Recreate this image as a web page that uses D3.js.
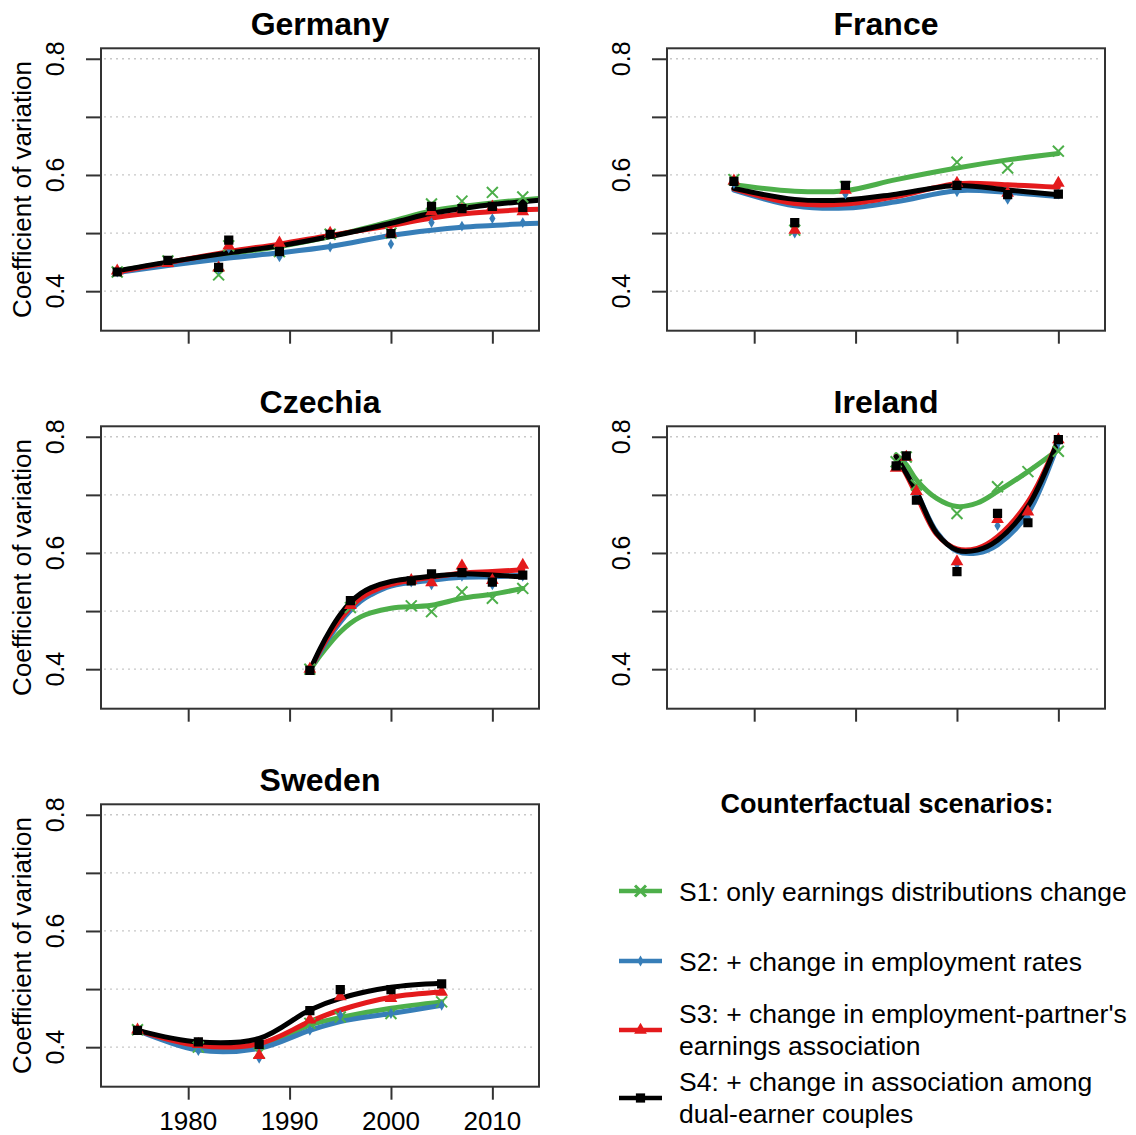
<!DOCTYPE html>
<html>
<head>
<meta charset="utf-8">
<script src="https://cdn.jsdelivr.net/npm/d3@7"></script>
<style>
  html, body { margin: 0; padding: 0; background: #fff; }
  svg { display: block; }
  text { font-family: "Liberation Sans", Arial, Helvetica, sans-serif; fill: #000; }
</style>
</head>
<body>
<svg id="chart" width="1136" height="1135"></svg>
<script>
// ---------------- DATA ----------------
const scenarioLabels = [
  ["S1: only earnings distributions change"],
  ["S2: + change in employment rates"],
  ["S3: + change in employment-partner's", "earnings association"],
  ["S4: + change in association among", "dual-earner couples"]
];
const scenarioColors = ["#4DAF4A", "#377EB8", "#E41A1C", "#000000"];
const yTicks = [0.4, 0.5, 0.6, 0.7, 0.8];
const yTickLabels = ["0.4", "", "0.6", "", "0.8"];
const xTicks = [1980, 1990, 2000, 2010];
const xTickLabels = ["1980", "1990", "2000", "2010"];
const xLimits = [1973, 2013];
const yLimits = [0.35, 0.8];

// Germany
const germanyYears = [1973, 1978, 1983, 1984, 1989, 1994, 2000, 2004, 2007, 2010, 2013];
const germanyS1 = [0.433, 0.452, 0.428, 0.478, 0.468, 0.498, 0.500, 0.550, 0.555, 0.570, 0.562];
const germanyS2 = [0.433, 0.450, 0.438, 0.474, 0.459, 0.476, 0.481, 0.518, 0.512, 0.525, 0.518];
const germanyS3 = [0.435, 0.448, 0.440, 0.478, 0.483, 0.500, 0.500, 0.537, 0.540, 0.545, 0.537];
const germanyS4 = [0.433, 0.453, 0.441, 0.488, 0.468, 0.498, 0.499, 0.546, 0.542, 0.546, 0.544];
const germanyFitYears = [1973, 1978, 1984, 1989, 1994, 2000, 2004, 2007, 2010, 2013, 2015];
const germanyFitS1 = [0.435, 0.449, 0.464, 0.477, 0.494, 0.520, 0.538, 0.546, 0.552, 0.557, 0.560];
const germanyFitS2 = [0.432, 0.444, 0.457, 0.466, 0.477, 0.496, 0.505, 0.510, 0.513, 0.516, 0.517];
const germanyFitS3 = [0.433, 0.449, 0.468, 0.481, 0.496, 0.513, 0.526, 0.533, 0.537, 0.540, 0.541];
const germanyFitS4 = [0.435, 0.450, 0.466, 0.478, 0.494, 0.517, 0.534, 0.542, 0.549, 0.554, 0.557];

// France
const franceYears = [1978, 1984, 1989, 2000, 2005, 2010];
const franceS1 = [0.592, 0.505, 0.580, 0.622, 0.612, 0.641];
const franceS2 = [0.585, 0.500, 0.567, 0.571, 0.558, 0.567];
const franceS3 = [0.590, 0.505, 0.574, 0.586, 0.569, 0.586];
const franceS4 = [0.589, 0.518, 0.582, 0.582, 0.566, 0.567];
const franceFitYears = [1978, 1984, 1989, 1994, 2000, 2005, 2010];
const franceFitS1 = [0.583, 0.572, 0.573, 0.592, 0.612, 0.626, 0.637];
const franceFitS2 = [0.574, 0.547, 0.543, 0.554, 0.573, 0.570, 0.563];
const franceFitS3 = [0.576, 0.551, 0.550, 0.563, 0.585, 0.583, 0.579];
const franceFitS4 = [0.577, 0.558, 0.557, 0.567, 0.582, 0.574, 0.566];

// Czechia
const czechiaYears = [1992, 1996, 2002, 2004, 2007, 2010, 2013];
const czechiaS1 = [0.400, 0.506, 0.509, 0.499, 0.533, 0.522, 0.539];
const czechiaS2 = [0.400, 0.510, 0.550, 0.545, 0.560, 0.545, 0.560];
const czechiaS3 = [0.400, 0.510, 0.553, 0.549, 0.578, 0.553, 0.579];
const czechiaS4 = [0.398, 0.518, 0.552, 0.564, 0.566, 0.550, 0.562];
const czechiaFitYears = [1992, 1993, 1994, 1995, 1996, 1997, 1998, 2000, 2004, 2007, 2010, 2013];
const czechiaFitS1 = [0.398, 0.423, 0.445, 0.464, 0.479, 0.490, 0.497, 0.505, 0.510, 0.522, 0.529, 0.539];
const czechiaFitS2 = [0.398, 0.429, 0.457, 0.481, 0.501, 0.517, 0.528, 0.543, 0.553, 0.558, 0.559, 0.562];
const czechiaFitS3 = [0.398, 0.432, 0.461, 0.486, 0.506, 0.522, 0.533, 0.546, 0.558, 0.565, 0.568, 0.571];
const czechiaFitS4 = [0.398, 0.435, 0.467, 0.494, 0.515, 0.530, 0.540, 0.551, 0.560, 0.564, 0.562, 0.559];

// Ireland
const irelandYears = [1994, 1995, 1996, 2000, 2004, 2007, 2010];
const irelandS1 = [0.757, 0.765, 0.717, 0.668, 0.714, 0.740, 0.775];
const irelandS2 = [0.750, 0.765, 0.700, 0.580, 0.647, 0.660, 0.790];
const irelandS3 = [0.746, 0.765, 0.706, 0.585, 0.658, 0.671, 0.795];
const irelandS4 = [0.750, 0.767, 0.691, 0.568, 0.668, 0.652, 0.795];
const irelandFitYears = [1994, 1995, 1996, 1998, 2000, 2002, 2004, 2007, 2010];
const irelandFitS1 = [0.769, 0.752, 0.726, 0.694, 0.680, 0.686, 0.706, 0.740, 0.778];
const irelandFitS2 = [0.766, 0.737, 0.706, 0.636, 0.603, 0.600, 0.614, 0.668, 0.790];
const irelandFitS3 = [0.766, 0.735, 0.700, 0.632, 0.607, 0.608, 0.628, 0.688, 0.795];
const irelandFitS4 = [0.766, 0.737, 0.706, 0.634, 0.605, 0.605, 0.622, 0.680, 0.795];

// Sweden
const swedenYears = [1975, 1981, 1987, 1992, 1995, 2000, 2005];
const swedenS1 = [0.430, 0.400, 0.390, 0.441, 0.452, 0.458, 0.478];
const swedenS2 = [0.430, 0.394, 0.381, 0.429, 0.455, 0.458, 0.472];
const swedenS3 = [0.430, 0.405, 0.386, 0.447, 0.487, 0.484, 0.495];
const swedenS4 = [0.429, 0.409, 0.405, 0.463, 0.499, 0.499, 0.509];
const swedenFitYears = [1975, 1981, 1987, 1992, 1995, 2000, 2005];
const swedenFitS1 = [0.429, 0.402, 0.402, 0.438, 0.451, 0.467, 0.478];
const swedenFitS2 = [0.429, 0.395, 0.398, 0.429, 0.444, 0.458, 0.472];
const swedenFitS3 = [0.429, 0.403, 0.406, 0.444, 0.464, 0.486, 0.495];
const swedenFitS4 = [0.429, 0.409, 0.415, 0.464, 0.484, 0.503, 0.510];

const panels = [
  { name: "Germany", col: 0, row: 0, years: germanyYears, pts: [germanyS1, germanyS2, germanyS3, germanyS4], fitYears: germanyFitYears, fit: [germanyFitS1, germanyFitS2, germanyFitS3, germanyFitS4] },
  { name: "France", col: 1, row: 0, years: franceYears, pts: [franceS1, franceS2, franceS3, franceS4], fitYears: franceFitYears, fit: [franceFitS1, franceFitS2, franceFitS3, franceFitS4] },
  { name: "Czechia", col: 0, row: 1, years: czechiaYears, pts: [czechiaS1, czechiaS2, czechiaS3, czechiaS4], fitYears: czechiaFitYears, fit: [czechiaFitS1, czechiaFitS2, czechiaFitS3, czechiaFitS4] },
  { name: "Ireland", col: 1, row: 1, years: irelandYears, pts: [irelandS1, irelandS2, irelandS3, irelandS4], fitYears: irelandFitYears, fit: [irelandFitS1, irelandFitS2, irelandFitS3, irelandFitS4] },
  { name: "Sweden", col: 0, row: 2, years: swedenYears, pts: [swedenS1, swedenS2, swedenS3, swedenS4], fitYears: swedenFitYears, fit: [swedenFitS1, swedenFitS2, swedenFitS3, swedenFitS4] }
];

// ---------------- LAYOUT ----------------
const colLeft = [101, 667];
const rowTop = [48.3, 426.3, 804.3];
const boxW = 438;
const boxH = 282.4;

function pad(lim) { const d = (lim[1] - lim[0]) * 0.04; return [lim[0] - d, lim[1] + d]; }
const x = d3.scaleLinear().domain(pad(xLimits)).range([0, boxW]);
const y = d3.scaleLinear().domain(pad(yLimits)).range([boxH, 0]);

const svg = d3.select("#chart");
const defs = svg.append("defs");
defs.append("clipPath").attr("id", "plotclip")
  .append("rect").attr("x", 0).attr("y", 0).attr("width", boxW).attr("height", boxH);

const symbolFor = [
  d3.symbol().type(d3.symbolTimes).size(80),
  d3.symbol().type(d3.symbolDiamond).size(34),
  d3.symbol().type(d3.symbolTriangle).size(70),
  d3.symbol().type(d3.symbolSquare).size(85)
];

const line = d3.line().curve(d3.curveCatmullRom.alpha(0.5));

panels.forEach(p => {
  const g = svg.append("g").attr("transform", `translate(${colLeft[p.col]},${rowTop[p.row]})`);

  // title
  g.append("text")
    .attr("x", boxW / 2).attr("y", -13)
    .attr("text-anchor", "middle")
    .style("font-size", "32px").style("font-weight", "bold")
    .text(p.name);

  // grid
  g.append("g").selectAll("line").data(yTicks).join("line")
    .attr("x1", 3).attr("x2", boxW - 3)
    .attr("y1", d => y(d)).attr("y2", d => y(d))
    .attr("stroke", "#c8c8c8").attr("stroke-width", 1.3)
    .attr("stroke-dasharray", "2,4");

  // y axis
  const ya = g.append("g").call(
    d3.axisLeft(y).tickValues(yTicks).tickSize(15).tickFormat("")
  );
  ya.select(".domain").remove();
  ya.selectAll(".tick line").attr("stroke", "#333").attr("stroke-width", 2);
  g.append("g").selectAll("text").data(yTicks.map((v, i) => ({ v, l: yTickLabels[i] })).filter(d => d.l))
    .join("text")
    .attr("transform", d => `translate(-37,${y(d.v)}) rotate(-90)`)
    .attr("text-anchor", "middle")
    .style("font-size", "25px")
    .text(d => d.l);

  // x axis
  const xa = g.append("g").attr("transform", `translate(0,${boxH})`).call(
    d3.axisBottom(x).tickValues(xTicks).tickSize(13).tickFormat("")
  );
  xa.select(".domain").remove();
  xa.selectAll(".tick line").attr("stroke", "#333").attr("stroke-width", 2);
  if (p.row === 2) {
    g.append("g").selectAll("text").data(xTicks).join("text")
      .attr("x", d => x(d)).attr("y", boxH + 43)
      .attr("text-anchor", "middle")
      .style("font-size", "26px")
      .text((d, i) => xTickLabels[i]);
  }

  // y-axis label (left column)
  if (p.col === 0) {
    g.append("text")
      .attr("transform", `translate(${31 - colLeft[0]},${boxH / 2}) rotate(-90)`)
      .attr("text-anchor", "middle")
      .style("font-size", "26px")
      .text("Coefficient of variation");
  }

  // curves
  const cg = g.append("g").attr("clip-path", "url(#plotclip)");
  p.fit.forEach((vals, si) => {
    cg.append("path")
      .attr("d", line(p.fitYears.map((yr, i) => [x(yr), y(vals[i])])))
      .attr("fill", "none")
      .attr("stroke", scenarioColors[si])
      .attr("stroke-width", 5)
      .attr("stroke-linecap", "round");
  });

  // points
  p.pts.forEach((vals, si) => {
    cg.append("g").selectAll("path").data(p.years.map((yr, i) => [yr, vals[i]])).join("path")
      .attr("transform", d => `translate(${x(d[0])},${y(d[1])})`)
      .attr("d", symbolFor[si]())
      .attr("fill", si === 0 ? "none" : scenarioColors[si])
      .attr("stroke", si === 0 ? scenarioColors[si] : "none")
      .attr("stroke-width", si === 0 ? 2 : 0);
  });

  // box
  g.append("rect").attr("x", 0).attr("y", 0).attr("width", boxW).attr("height", boxH)
    .attr("fill", "none").attr("stroke", "#333").attr("stroke-width", 2);
});

// ---------------- LEGEND ----------------
const lg = svg.append("g");
lg.append("text")
  .attr("x", 887).attr("y", 813)
  .attr("text-anchor", "middle")
  .style("font-size", "27px").style("font-weight", "bold")
  .text("Counterfactual scenarios:");

const legendLineY = [891, 961, 1030, 1098];
scenarioLabels.forEach((lines, si) => {
  const ly = legendLineY[si];
  lg.append("line")
    .attr("x1", 619).attr("x2", 662).attr("y1", ly).attr("y2", ly)
    .attr("stroke", scenarioColors[si]).attr("stroke-width", 4.5);
  lg.append("path")
    .attr("transform", `translate(640.5,${ly})`)
    .attr("d", symbolFor[si]())
    .attr("fill", si === 0 ? "none" : scenarioColors[si])
    .attr("stroke", si === 0 ? scenarioColors[si] : "none")
    .attr("stroke-width", si === 0 ? 3 : 0);
  const base = lines.length === 1 ? ly + 10 : ly - 7;
  lines.forEach((s, k) => {
    lg.append("text").attr("x", 679).attr("y", base + 32 * k)
      .style("font-size", "26.5px").text(s);
  });
});
</script>
</body>
</html>
